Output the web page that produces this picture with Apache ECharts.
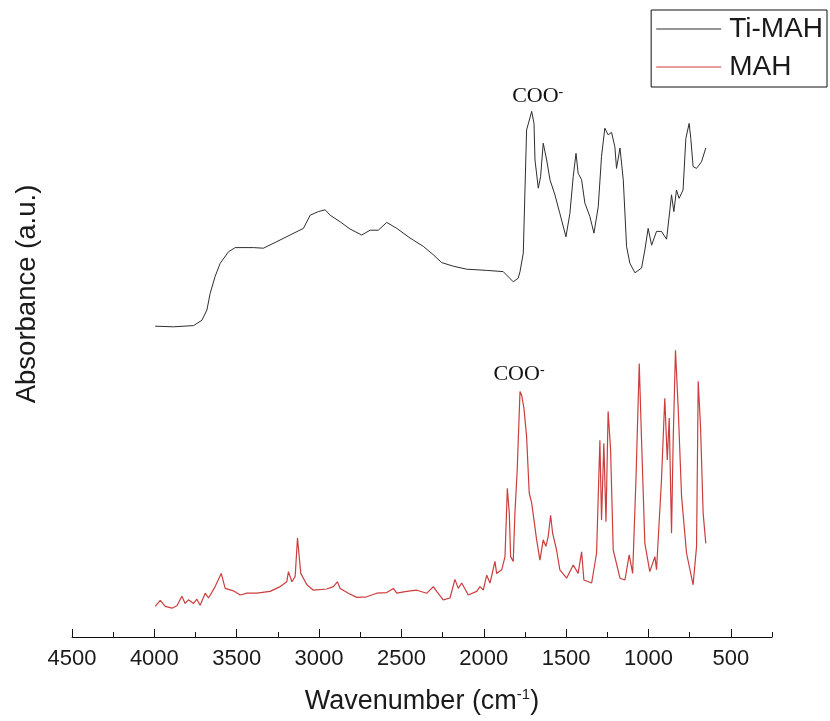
<!DOCTYPE html>
<html>
<head>
<meta charset="utf-8">
<script src="https://cdn.jsdelivr.net/npm/echarts@6/dist/echarts.min.js"></script>
<style>
html,body{margin:0;padding:0;background:#fff;}
#c{width:830px;height:721px;}
</style>
</head>
<body>
<div id="c"></div>
<script>
// Wavenumber (cm-1) and absorbance (a.u., arbitrary offset units)
const tiWave = [3995,3884,3762,3711,3681,3661,3631,3600,3550,3509,3398,3338,3256,3176,3095,3054,3004,2963,2933,2872,2812,2741,2690,2640,2589,2528,2448,2367,2306,2255,2185,2104,1982,1882,1821,1791,1780,1760,1740,1709,1695,1689,1669,1655,1639,1618,1598,1568,1538,1501,1477,1457,1440,1427,1406,1386,1356,1331,1305,1285,1265,1245,1224,1204,1194,1173,1153,1133,1113,1082,1042,1022,1002,981,951,921,890,870,860,846,830,814,790,773,753,743,729,708,678,652];
const tiAbs = [0.518,0.517,0.519,0.528,0.545,0.573,0.601,0.623,0.642,0.649,0.649,0.648,0.659,0.670,0.681,0.703,0.709,0.712,0.703,0.692,0.680,0.670,0.678,0.678,0.691,0.681,0.665,0.651,0.637,0.624,0.618,0.613,0.611,0.609,0.592,0.598,0.609,0.640,0.845,0.876,0.856,0.795,0.748,0.767,0.823,0.795,0.762,0.737,0.706,0.667,0.706,0.767,0.806,0.773,0.762,0.723,0.701,0.673,0.717,0.801,0.848,0.837,0.841,0.817,0.781,0.815,0.762,0.651,0.623,0.607,0.615,0.645,0.681,0.653,0.676,0.676,0.663,0.712,0.737,0.709,0.745,0.731,0.745,0.831,0.856,0.831,0.784,0.781,0.792,0.815];

const mahWave = [3995,3964,3934,3893,3863,3833,3813,3793,3762,3742,3722,3691,3671,3631,3594,3570,3520,3479,3438,3378,3297,3236,3196,3186,3165,3145,3131,3121,3111,3074,3034,2953,2913,2889,2872,2822,2771,2710,2650,2589,2549,2528,2468,2407,2346,2306,2286,2246,2205,2175,2155,2134,2094,2043,2023,2003,1982,1962,1932,1922,1891,1871,1857,1845,1837,1821,1811,1797,1780,1770,1756,1740,1724,1709,1679,1659,1639,1623,1609,1594,1582,1558,1538,1497,1457,1427,1406,1392,1345,1315,1295,1285,1271,1258,1245,1230,1214,1173,1143,1117,1096,1076,1056,1042,1022,992,961,951,921,901,886,874,860,850,836,820,799,769,729,708,698,684,668,652];
const mahAbs = [0.051,0.061,0.051,0.048,0.052,0.068,0.056,0.062,0.056,0.063,0.053,0.073,0.065,0.084,0.106,0.081,0.077,0.070,0.073,0.073,0.076,0.084,0.092,0.109,0.092,0.101,0.165,0.163,0.106,0.087,0.078,0.080,0.084,0.092,0.081,0.073,0.066,0.067,0.073,0.074,0.081,0.073,0.076,0.078,0.073,0.084,0.076,0.062,0.065,0.096,0.081,0.090,0.070,0.076,0.084,0.078,0.103,0.090,0.126,0.106,0.112,0.134,0.248,0.206,0.134,0.126,0.206,0.278,0.409,0.403,0.381,0.334,0.240,0.223,0.162,0.128,0.162,0.151,0.167,0.203,0.173,0.145,0.112,0.098,0.120,0.106,0.142,0.095,0.090,0.140,0.328,0.195,0.323,0.192,0.376,0.312,0.145,0.098,0.095,0.137,0.106,0.262,0.456,0.328,0.156,0.109,0.134,0.112,0.262,0.398,0.295,0.365,0.173,0.328,0.478,0.384,0.234,0.140,0.087,0.151,0.426,0.351,0.206,0.156];

const seriesNames = ['Ti-MAH', 'MAH'];
const majorTicks = [500,1000,1500,2000,2500,3000,3500,4000,4500];
const annotation = 'COO';

const zip = (xs, ys) => xs.map((x, i) => [x, ys[i]]);

const chart = echarts.init(document.getElementById('c'), null, {renderer: 'canvas'});
const cooRich = {
  a: {fontFamily: '"Liberation Serif","Times New Roman",serif', fontSize: 22, color: '#111', lineHeight: 22},
  s: {fontFamily: '"Liberation Serif","Times New Roman",serif', fontSize: 14, color: '#111', lineHeight: 14, verticalAlign: 'top'}
};
chart.setOption({
  animation: false,
  backgroundColor: '#fff',
  grid: {left: 72, right: 58, top: 37, bottom: 84},
  legend: {
    orient: 'vertical', right: 3, top: 10,
    data: seriesNames,
    icon: 'rect',
    itemWidth: 65, itemHeight: 1.2, itemGap: 10,
    padding: [5, 4, 6, 5],
    borderColor: '#111', borderWidth: 1,
    textStyle: {fontFamily: 'Arial, "Liberation Sans", sans-serif', fontSize: 28, color: '#1a1a1a', lineHeight: 28, padding: [0, 0, 0, 3]}
  },
  xAxis: [{
    type: 'value', inverse: true, min: 250, max: 4500, interval: 250,
    axisLine: {show: true, onZero: false, lineStyle: {color: '#111', width: 1}},
    axisTick: {show: true, inside: true, length: 5, lineStyle: {color: '#111'}},
    axisLabel: {
      margin: 11, fontSize: 22, color: '#1a1a1a', fontFamily: 'Arial, "Liberation Sans", sans-serif',
      formatter: v => (v % 500 === 0 ? String(v) : '')
    },
    splitLine: {show: false},
    name: '{a|Wavenumber (cm}{s|-1}{a|)}',
    nameLocation: 'middle', nameGap: 50,
    nameTextStyle: {
      rich: {
        a: {fontFamily: 'Arial, "Liberation Sans", sans-serif', fontSize: 27, color: '#1a1a1a', lineHeight: 30},
        s: {fontFamily: 'Arial, "Liberation Sans", sans-serif', fontSize: 15, color: '#1a1a1a', lineHeight: 15, verticalAlign: 'top'}
      }
    }
  }, {
    type: 'value', inverse: true, min: 250, max: 4500, interval: 250, position: 'bottom',
    axisLine: {show: false},
    axisTick: {show: true, inside: true, length: 8, customValues: majorTicks, lineStyle: {color: '#111'}},
    axisLabel: {show: false},
    splitLine: {show: false}
  }],
  yAxis: {type: 'value', min: 0, max: 1, show: false},
  graphic: [{
    type: 'text', x: 27, y: 294, rotation: Math.PI / 2,
    style: {text: 'Absorbance (a.u.)', fontSize: 27.5, fontFamily: 'Arial, "Liberation Sans", sans-serif', fill: '#1a1a1a', align: 'center', verticalAlign: 'middle'}
  }],
  series: [{
    name: seriesNames[0], type: 'line', data: zip(tiWave, tiAbs), symbol: 'none', xAxisIndex: 0,
    lineStyle: {color: '#2e2e2e', width: 1}, itemStyle: {color: '#2e2e2e'},
    markPoint: {
      symbol: 'circle', symbolSize: 0,
      label: {show: true, position: 'top', distance: 4, offset: [6, 0], formatter: '{a|' + annotation + '}{s|-}', rich: cooRich},
      data: [{coord: [1709, 0.876]}]
    }
  }, {
    name: seriesNames[1], type: 'line', data: zip(mahWave, mahAbs), symbol: 'none', xAxisIndex: 0,
    lineStyle: {color: '#cc3d3d', width: 1.2}, itemStyle: {color: '#cc3d3d'},
    markPoint: {
      symbol: 'circle', symbolSize: 0,
      label: {show: true, position: 'top', distance: 6, offset: [-1, 0], formatter: '{a|' + annotation + '}{s|-}', rich: cooRich},
      data: [{coord: [1780, 0.409]}]
    }
  }]
});
</script>
</body>
</html>
